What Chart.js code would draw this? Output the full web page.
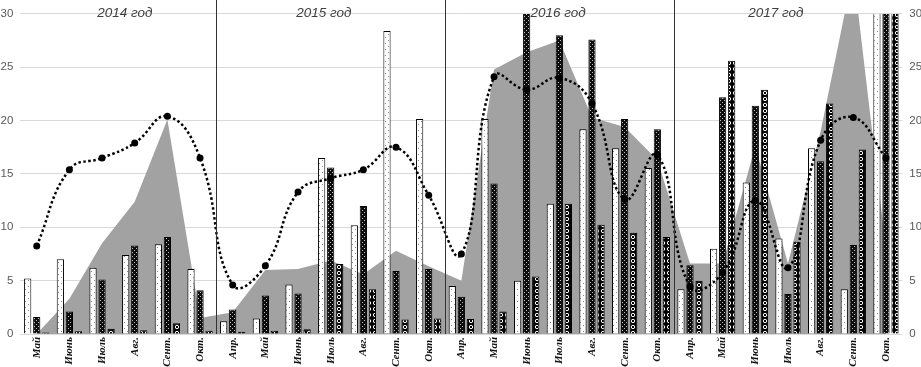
<!DOCTYPE html>
<html>
<head>
<meta charset="utf-8">
<script src="https://cdn.jsdelivr.net/npm/chart.js@4.4.1/dist/chart.umd.min.js"></script>
<style>
  body { margin: 0; background: #fff; }
</style>
</head>
<body>
<canvas id="main-chart" width="921" height="367"></canvas>
<script>
const months = [
    'Май', 'Июнь', 'Июль', 'Авг.', 'Сент.', 'Окт.',
    'Апр.', 'Май', 'Июнь', 'Июль', 'Авг.', 'Сент.', 'Окт.',
    'Апр.', 'Май', 'Июнь', 'Июль', 'Авг.', 'Сент.', 'Окт.',
    'Апр.', 'Май', 'Июнь', 'Июль', 'Авг.', 'Сент.', 'Окт.'
];
const years = ['2014 год', '2015 год', '2016 год', '2017 год'];
const monthsPerYear = [6, 7, 7, 7];

// three bar series (white dotted, dark, ringed)
const barsA = [5.2, 7.0, 6.2, 7.4, 8.4, 6.1,
    1.2, 1.45, 4.65, 16.5, 10.2, 28.4, 20.15,
    4.5, 20.15, 5.0, 12.2, 19.2, 17.4, 15.55,
    4.2, 8.0, 14.2, 8.95, 17.4, 4.2, 32];
const barsB = [1.6, 2.1, 5.1, 8.3, 9.1, 4.1,
    2.3, 3.6, 3.8, 15.6, 12.0, 5.9, 6.1,
    3.5, 14.1, 32, 28.0, 27.6, 20.15, 19.2,
    6.45, 22.2, 21.4, 3.75, 16.2, 8.35, 32];
const barsC = [0.15, 0.25, 0.5, 0.35, 1.0, 0.3,
    0.2, 0.3, 0.45, 6.55, 4.2, 1.35, 1.45,
    1.4, 2.1, 5.4, 12.2, 10.25, 9.5, 9.1,
    5.0, 25.6, 22.9, 8.65, 21.6, 17.3, 32];
// grey area and dotted curve
const areaValues = [0, 3.3, 8.5, 12.4, 20.1, 1.5,
    2.05, 6.0, 6.1, 6.9, 5.6, 7.8, 6.35,
    5.0, 24.8, 26.4, 27.5, 20.3, 19.4, 16.3,
    6.6, 6.6, 17.6, 6.6, 19, 34, 8];
const lineValues = [8.25, 15.4, 16.5, 17.9, 20.4, 16.5,
    4.6, 6.4, 13.3, 14.6, 15.4, 17.5, 13.0,
    7.5, 24.1, 22.9, 24.0, 21.6, 12.6, 16.8,
    4.45, 5.75, 12.5, 6.2, 18.15, 20.3, 16.5];
const yTicks = [0, 5, 10, 15, 20, 25, 30];

function makePattern(size, draw) {
    const c = document.createElement('canvas');
    c.width = size;
    c.height = size;
    const g = c.getContext('2d');
    draw(g);
    return g.createPattern(c, 'repeat');
}

const ctx = document.getElementById('main-chart').getContext('2d');

const whiteDots = makePattern(6, g => {
    g.fillStyle = '#fff';
    g.fillRect(0, 0, 6, 6);
    g.fillStyle = '#8a8a8a';
    g.fillRect(1, 1, 1, 1);
    g.fillRect(4, 4, 1, 1);
});
const darkDots = makePattern(4, g => {
    g.fillStyle = '#0d0d0d';
    g.fillRect(0, 0, 4, 4);
    g.fillStyle = '#bdbdbd';
    g.fillRect(0, 0, 1, 1);
    g.fillRect(2, 2, 1, 1);
});
const rings = makePattern(6, g => {
    g.fillStyle = '#000';
    g.fillRect(0, 0, 6, 6);
    g.strokeStyle = '#fff';
    g.lineWidth = 1;
    g.beginPath();
    g.arc(3, 3, 1.7, 0, Math.PI * 2);
    g.stroke();
});

// year separators and year captions
const yearAnchor = [2.7, 8.79, 15.96, 22.63];
const yearsPlugin = {
    id: 'years',
    afterDatasetsDraw(chart) {
        const x = chart.scales.x;
        const area = chart.chartArea;
        const c = chart.ctx;
        c.save();
        c.strokeStyle = '#333';
        c.lineWidth = 1;
        let idx = 0;
        monthsPerYear.forEach((n, i) => {
            idx += n;
            if (i < monthsPerYear.length - 1) {
                const px = Math.round((x.getPixelForValue(idx - 1) + x.getPixelForValue(idx)) / 2) + 0.5;
                c.beginPath();
                c.moveTo(px, 0);
                c.lineTo(px, area.bottom);
                c.stroke();
            }
        });
        c.fillStyle = '#404040';
        c.font = 'italic 13.5px "Liberation Sans", Arial, sans-serif';
        c.textAlign = 'center';
        c.textBaseline = 'middle';
        years.forEach((y, i) => {
            c.fillText(y, x.getPixelForValue(yearAnchor[i]), 13);
        });
        c.restore();
    }
};

const tickFont = { family: '"Liberation Sans", Arial, sans-serif', size: 11.5 };

new Chart(ctx, {
    data: {
        labels: months,
        datasets: [
            {
                type: 'bar', data: barsA, backgroundColor: whiteDots,
                borderColor: '#000', borderWidth: 1, order: 1
            },
            {
                type: 'bar', data: barsB, backgroundColor: darkDots,
                borderColor: '#000', borderWidth: 1, order: 1
            },
            {
                type: 'bar', data: barsC, backgroundColor: rings,
                borderColor: '#000', borderWidth: 1, order: 1
            },
            {
                type: 'line', data: areaValues, fill: 'origin',
                backgroundColor: '#a2a2a2', borderWidth: 0,
                pointRadius: 0, tension: 0, order: 3
            },
            {
                type: 'line', data: lineValues, fill: false,
                borderColor: '#000', borderWidth: 2.5, borderDash: [2.5, 2.5],
                pointRadius: 3.5, pointBackgroundColor: '#000', pointBorderWidth: 0,
                tension: 0.45, order: 0
            }
        ]
    },
    options: {
        responsive: false,
        animation: false,
        devicePixelRatio: 1,
        layout: { padding: { top: 8.3, left: 0, right: 0, bottom: 0 } },
        datasets: {
            bar: { categoryPercentage: 0.83, barPercentage: 0.8 }
        },
        plugins: {
            legend: { display: false },
            tooltip: { enabled: false }
        },
        scales: {
            x: {
                grid: { display: false, drawTicks: false },
                border: { display: false },
                ticks: {
                    autoSkip: false, maxRotation: 90, minRotation: 90, padding: 3,
                    color: '#111',
                    font: { family: '"Liberation Serif", "Times New Roman", serif', size: 11, style: 'italic', weight: 'bold' }
                },
                afterFit: s => { s.height = 33; }
            },
            y: {
                position: 'left',
                min: 0, max: 30,
                afterBuildTicks: s => { s.ticks = yTicks.map(v => ({ value: v })); },
                grid: { color: '#d9d9d9', drawTicks: false },
                border: { display: false },
                ticks: { padding: 7, color: '#595959', font: tickFont },
                afterFit: s => { s.width = 20.4; }
            },
            y2: {
                position: 'right',
                min: 0, max: 30,
                afterBuildTicks: s => { s.ticks = yTicks.map(v => ({ value: v })); },
                grid: { display: false, drawTicks: false },
                border: { display: false },
                ticks: { padding: 7, color: '#595959', font: tickFont },
                afterFit: s => { s.width = 18.7; }
            }
        }
    },
    plugins: [yearsPlugin]
});
</script>
</body>
</html>
